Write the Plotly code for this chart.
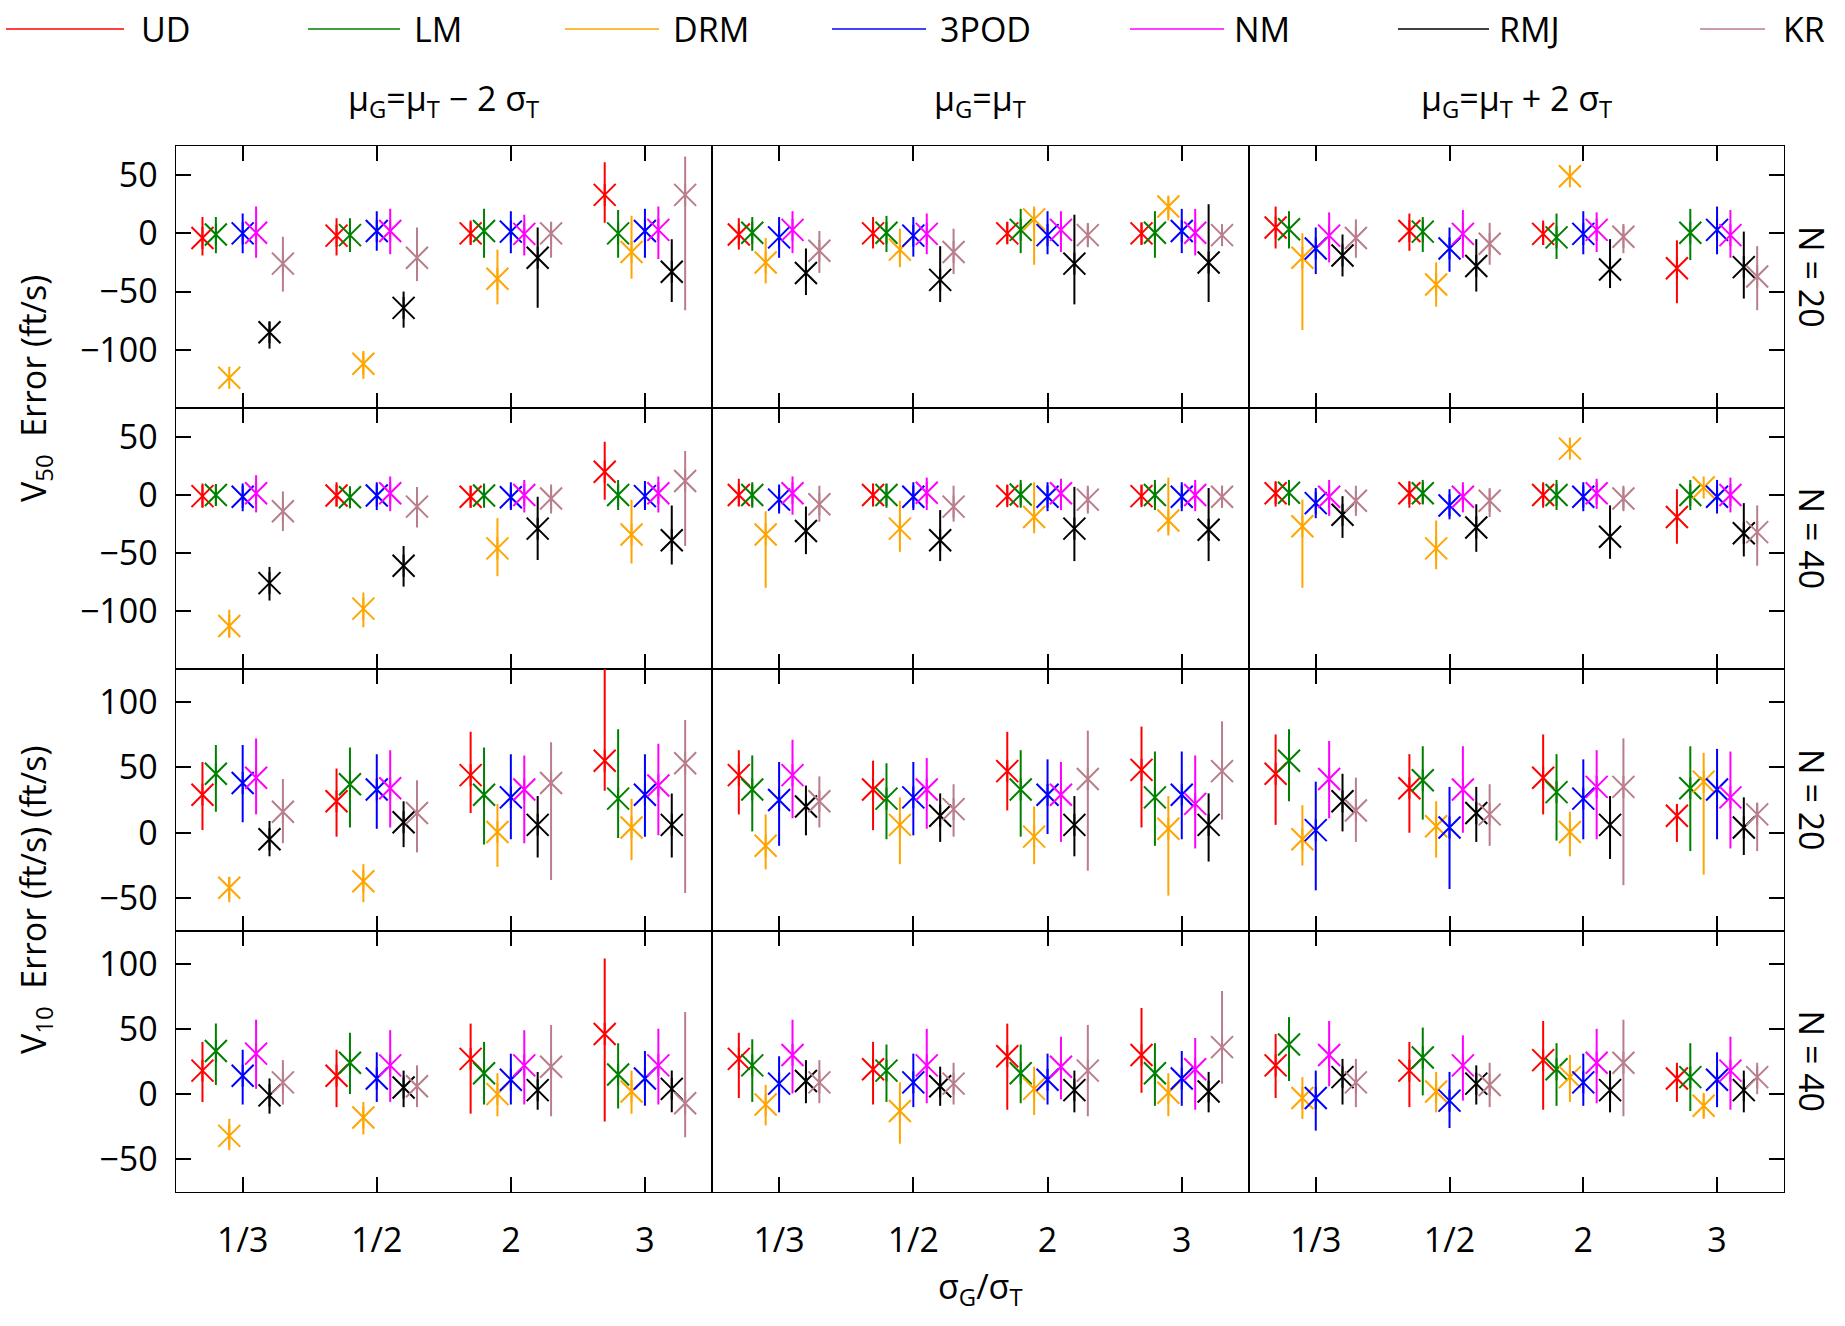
import plotly.graph_objects as go

# ---------------- data ----------------
SERIES = ["UD", "LM", "DRM", "3POD", "NM", "RMJ", "KR"]
COLORS = ["#ff0000", "#008000", "#ffa500", "#0000ff", "#ff00ff", "#000000", "#b97d8c"]
OFFSETS = [-0.3, -0.2, -0.1, 0.0, 0.1, 0.2, 0.3]
GROUP_LABELS = ["1/3", "1/2", "2", "3"]
GROUP_POS = [1, 2, 3, 4]
COL_TITLES = ["μ<sub>G</sub>=μ<sub>T</sub> − 2 σ<sub>T</sub>",
              "μ<sub>G</sub>=μ<sub>T</sub>",
              "μ<sub>G</sub>=μ<sub>T</sub> + 2 σ<sub>T</sub>"]
ROW_LABELS = ["N = 20", "N = 40", "N = 20", "N = 40"]
Y_RANGES = [[-150, 75], [-150, 75], [-75, 125], [-75, 125]]
Y_TICKS = [[-100, -50, 0, 50], [-100, -50, 0, 50], [-50, 0, 50, 100], [-50, 0, 50, 100]]

# each: [row][col][group]  (rows: V50 N=20, V50 N=40, V10 N=20, V10 N=40)
UD_med = [[[-4, -2, 0, 33], [-1, 0, 0, 0], [5, 2, -0.5, -30]],
          [[-1, -0.5, -1.5, 20], [0, 0, -1, -1], [1.5, 1.5, 0, -19]],
          [[29, 24, 44, 55], [44, 33, 47, 48], [45, 34, 42, 13]],
          [[18, 14, 27, 46], [27, 19, 29, 30], [22, 18, 26, 12]]]
UD_lo = [[[-19, -19, -10, 9], [-14, -13, -9, -10], [-13, -15, -10, -60]],
         [[-11, -10, -11, -4], [-10, -10, -9, -9], [-10, -11, -11, -42]],
         [[2, -3, 15, 32], [14, 2, 17, 4], [6, 0, 14, -7]],
         [[-6, -10, -15, -21], [-3, -8, -12, 1], [-3, -10, -12, -6]]]
UD_hi = [[[14, 13, 11, 61], [13, 14, 10, 9], [23, 17, 11, -6]],
         [[10, 11, 8, 46], [14, 10, 9, 9], [12, 12, 11, 5]],
         [[54, 49, 77, 140], [63, 55, 77, 81], [75, 60, 75, 22]],
         [[40, 34, 54, 104], [47, 40, 54, 66], [46, 40, 56, 24]]]

LM_med = [[[-1, -1.5, 2, 0], [0.5, 0.5, 3, 0.5], [3.5, 1.5, -3.5, 0.5]],
          [[0, -2, -0.5, 0], [0, 0, 0.5, 0], [2, 1.5, 0, 0]],
          [[45, 37, 29, 26], [33, 26, 33, 27], [55, 40, 31, 34]],
          [[33, 24, 16, 15], [22, 18, 16, 16], [38, 28, 19, 13]]]
LM_lo = [[[-17, -16, -21, -21], [-15, -16, -17, -21], [-13, -16, -22, -23]],
         [[-9, -11, -11, -13], [-11, -11, -11, -13], [-9, -8, -13, -13]],
         [[16, 4, -9, -4], [1, -5, -3, -10], [24, 10, -6, -14]],
         [[7, 0, -8, -11], [-6, -6, -7, -9], [10, -1, -9, -13]]]
LM_hi = [[[14, 13, 21, 20], [14, 15, 21, 19], [19, 14, 17, 21]],
         [[9, 7, 10, 13], [11, 10, 13, 13], [13, 13, 13, 13]],
         [[67, 65, 65, 79], [59, 53, 63, 62], [79, 66, 60, 66]],
         [[54, 47, 40, 39], [42, 38, 38, 39], [59, 51, 39, 39]]]

DRM_med = [[[-124, -112, -39, -16], [-25, -14, 12, 23], [-21, -44, 49, None]],
           [[-113, -98, -46, -34], [-34, -29, -19, -22], [-27, -46, 40, 6.5]],
           [[-42, -37, 0.5, 4], [-10, 6, -3, 3], [-5, 5, 0.5, 39]],
           [[-32, -18, 0, 2], [-8, -13, 4, 1], [-3, 2, 13, -9]]]
DRM_lo = [[[-124, -125, -61, -39], [-43, -29, -27, 11], [-83, -63, 49, None]],
          [[-123, -114, -70, -59], [-80, -49, -33, -35], [-80, -64, 40, 6.5]],
          [[-53, -53, -26, -21], [-28, -24, -24, -48], [-25, -19, -18, -32]],
          [[-43, -31, -17, -15], [-24, -38, -16, -17], [-19, -14, -6, -19]]]
DRM_hi = [[[-124, -101, -14, 15], [-4, 4, 23, 31], [0, -25, 49, None]],
          [[-99, -84, -20, -4], [-14, -5, 11, 15], [-4, -22, 40, 6.5]],
          [[-34, -24, 22, 26], [14, 27, 20, 28], [21, 24, 16, 61]],
          [[-19, -6, 16, 18], [7, 9, 21, 16], [13, 17, 30, 1]]]

POD_med = [[[0, 2, 1.5, 2], [-3.5, -2, -1.5, 2], [-13, -13, -0.5, 3]],
           [[-1.5, -0.5, -2, -1], [-4, -1.5, -1.5, -1.5], [-7, -9, -1.5, -1.5]],
           [[38, 33, 27, 29], [25, 27, 29, 29], [2, 4, 26, 33]],
           [[14, 12, 11, 12], [8, 9, 11, 12], [-3, -5, 9, 11]]]
POD_lo = [[[-17, -15, -17, -21], [-21, -20, -18, -17], [-35, -33, -18, -18]],
          [[-14, -13, -13, -13], [-16, -13, -14, -14], [-20, -21, -14, -16]],
          [[8, 3, -5, -3], [-10, -2, -1, -5], [-44, -43, -5, -5]],
          [[-8, -6, -8, -9], [-14, -10, -8, -9], [-28, -26, -9, -10]]]
POD_hi = [[[17, 19, 19, 21], [14, 14, 19, 21], [5, 5, 19, 23]],
          [[10, 11, 11, 12], [9, 11, 11, 11], [6, 5, 11, 13]],
          [[67, 60, 60, 60], [54, 54, 56, 62], [39, 35, 56, 64]],
          [[34, 32, 31, 33], [29, 31, 31, 33], [18, 17, 31, 32]]]

NM_med = [[[0.5, 2, -0.5, 3], [3, -0.5, 3, 0.5], [-2, -0.5, 3, -1.5]],
          [[1.5, 1.5, 0, 1.5], [1.5, 2, 1.5, 0], [-1.5, -1.5, 1.5, 0]],
          [[42, 34, 33, 36], [44, 33, 29, 22], [41, 33, 35, 27]],
          [[31, 22, 22, 22], [30, 22, 21, 19], [30, 22, 24, 18]]]
NM_lo = [[[-21, -18, -19, -22], [-17, -18, -16, -19], [-25, -21, -16, -21]],
         [[-15, -14, -15, -15], [-17, -13, -13, -14], [-18, -15, -12, -15]],
         [[14, 4, -8, -2], [11, 3, -7, -12], [11, 0, -5, -12]],
         [[4, -6, -8, -8], [0.5, -7, -4, -12], [6, -5, -7, -12]]]
NM_hi = [[[23, 21, 16, 23], [19, 17, 19, 21], [18, 20, 18, 20]],
         [[17, 16, 13, 16], [16, 15, 14, 13], [13, 11, 14, 15]],
         [[72, 63, 59, 68], [71, 57, 54, 59], [70, 66, 63, 62]],
         [[57, 49, 49, 50], [57, 50, 44, 43], [56, 45, 50, 44]]]

RMJ_med = [[[-85, -64, -21, -33], [-34, -40, -26, -25], [-19, -28, -31, -29]],
           [[-76, -61, -29, -39], [-31, -39, -29, -30], [-17, -28, -36, -33]],
           [[-5, 8, 6, 6], [20, 13, 6, 6], [24, 15, 6, 4]],
           [[-1, 5, 3, 4], [10, 6, 3, 2], [13, 8, 3, 3]]]
RMJ_lo = [[[-99, -81, -64, -59], [-53, -59, -61, -59], [-37, -50, -47, -56]],
          [[-91, -79, -56, -60], [-51, -57, -57, -57], [-37, -49, -55, -53]],
          [[-18, -11, -19, -19], [-2, -7, -18, -22], [1, -7, -20, -17]],
          [[-15, -10, -12, -14], [-7, -9, -14, -14], [-8, -8, -14, -14]]]
RMJ_hi = [[[-76, -50, 5, -5], [-13, -11, 16, 25], [-1, -5, -5, 1.5]],
          [[-62, -44, -1.5, -9], [-10, -13, 7, 6], [-1, -8, -9, -7]],
          [[9, 24, 28, 30], [36, 30, 28, 30], [45, 35, 28, 27]],
          [[12, 18, 17, 18], [26, 21, 18, 17], [27, 22, 18, 18]]]

KR_med = [[[-26, -21, 0, 33], [-15, -16, -1.5, -1.5], [-4, -9, -3, -37]],
          [[-14, -10, -3, 12], [-8, -10, -4, -1.5], [-5, -5, -3, -32]],
          [[16, 15, 38, 53], [24, 18, 41, 47], [17, 14, 35, 14]],
          [[9, 6, 21, -7], [9, 8, 18, 36], [9, 7, 24, 13]]]
KR_lo = [[[-50, -41, -21, -66], [-34, -35, -12, -11], [-21, -27, -17, -66]],
         [[-31, -28, -16, -44], [-23, -23, -16, -11], [-18, -19, -14, -61]],
         [[-8, -15, -36, -46], [4, -3, -29, 10], [-7, -10, -40, -14]],
         [[-8, -10, -17, -33], [-7, -8, -17, 8], [-10, -10, -17, 0]]]
KR_hi = [[[-3, 5, 10, 66], [2, 4, 9, 7], [12, 9, 8, -11]],
         [[3, 7, 9, 38], [8, 8, 8, 8], [8, 6, 8, -9]],
         [[41, 40, 69, 86], [43, 37, 78, 85], [42, 37, 72, 23]],
         [[26, 22, 53, 63], [26, 24, 53, 79], [27, 24, 57, 24]]]

MED = [UD_med, LM_med, DRM_med, POD_med, NM_med, RMJ_med, KR_med]
LO = [UD_lo, LM_lo, DRM_lo, POD_lo, NM_lo, RMJ_lo, KR_lo]
HI = [UD_hi, LM_hi, DRM_hi, POD_hi, NM_hi, RMJ_hi, KR_hi]

# ---------------- layout constants ----------------
W, H = 1845, 1326
X_DOM = [[0.0952, 0.3859], [0.3859, 0.6769], [0.6769, 0.9669]]
Y_DOM = [[0.6923, 0.8899], [0.4955, 0.6923], [0.2979, 0.4955], [0.1011, 0.2979]]
FONT = "Open Sans"
FS = 34
LW = 1.4
MS = 22

fig = go.Figure()
layout = dict(width=W, height=H, margin=dict(l=0, r=0, t=0, b=0),
              paper_bgcolor="white", plot_bgcolor="white", showlegend=False,
              font=dict(family=FONT, size=FS, color="black"))

for r in range(4):
    for c in range(3):
        k = r * 3 + c + 1
        xa = "x" if k == 1 else f"x{k}"
        ya = "y" if k == 1 else f"y{k}"
        for s, name in enumerate(SERIES):
            med = MED[s][r][c]
            lo = LO[s][r][c]
            hi = HI[s][r][c]
            xs = [g + OFFSETS[s] for g in GROUP_POS]
            up = [(h - m) if m is not None else None for m, h in zip(med, hi)]
            dn = [(m - l) if m is not None else None for m, l in zip(med, lo)]
            col = COLORS[s]
            fig.add_trace(go.Scatter(
                x=xs, y=med, mode="markers", name=name, xaxis=xa, yaxis=ya,
                marker=dict(symbol="x-thin-open", size=MS, color=col,
                            line=dict(width=2, color=col)),
                error_y=dict(type="data", symmetric=False, array=up, arrayminus=dn,
                             color=col, thickness=2, width=0),
                hoverinfo="skip"))
            fig.add_trace(go.Scatter(
                x=xs, y=med, mode="markers", name=name, xaxis=xa, yaxis=ya,
                marker=dict(symbol="line-ns-open", size=MS / 1.4, color=col,
                            line=dict(width=2, color=col)),
                hoverinfo="skip"))
        xkey = "xaxis" if k == 1 else f"xaxis{k}"
        ykey = "yaxis" if k == 1 else f"yaxis{k}"
        layout[xkey] = dict(domain=X_DOM[c], anchor=ya, range=[0.5, 4.5],
                            tickmode="array", tickvals=GROUP_POS, ticktext=GROUP_LABELS,
                            showticklabels=(r == 3), ticks="inside", ticklen=15,
                            tickwidth=2, tickcolor="black", showline=True,
                            linecolor="black", linewidth=LW, mirror="ticks",
                            showgrid=False, zeroline=False, ticklabelstandoff=18,
                            tickfont=dict(family=FONT, size=FS))
        yax = dict(domain=Y_DOM[r], anchor=xa, range=Y_RANGES[r],
                   tickmode="array", tickvals=Y_TICKS[r], showline=True,
                   linecolor="black", linewidth=LW, mirror=True,
                   showgrid=False, zeroline=False,
                   tickfont=dict(family=FONT, size=FS))
        if c == 0:
            yax.update(side="left", ticks="inside", ticklen=15, tickwidth=2,
                       tickcolor="black", showticklabels=True, ticklabelstandoff=10)
        elif c == 1:
            yax.update(ticks="", showticklabels=False)
        else:
            yax.update(side="right", ticks="inside", ticklen=15, tickwidth=2,
                       tickcolor="black", showticklabels=False)
        layout[ykey] = yax

annotations = []
shapes = []
# column titles
for c in range(3):
    annotations.append(dict(text=COL_TITLES[c], x=(X_DOM[c][0] + X_DOM[c][1]) / 2,
                            y=1 - 100 / H, xref="paper", yref="paper",
                            showarrow=False, xanchor="center", yanchor="middle",
                            font=dict(family=FONT, size=FS)))
# row labels
for r in range(4):
    annotations.append(dict(text=ROW_LABELS[r], x=1812 / W,
                            y=(Y_DOM[r][0] + Y_DOM[r][1]) / 2, xref="paper", yref="paper",
                            showarrow=False, textangle=90, xanchor="center", yanchor="middle",
                            font=dict(family=FONT, size=FS)))
# y titles
annotations.append(dict(text="V<sub>50</sub>  Error (ft/s)", x=35 / W, y=1 - 389 / H,
                        xref="paper", yref="paper", showarrow=False, textangle=-90,
                        xanchor="center", yanchor="middle", font=dict(family=FONT, size=FS)))
annotations.append(dict(text="V<sub>10</sub>  Error (ft/s) (ft/s)", x=35 / W, y=1 - 900 / H,
                        xref="paper", yref="paper", showarrow=False, textangle=-90,
                        xanchor="center", yanchor="middle", font=dict(family=FONT, size=FS)))
# x title
annotations.append(dict(text="σ<sub>G</sub>/σ<sub>T</sub>", x=(X_DOM[1][0] + X_DOM[1][1]) / 2,
                        y=1 - 1288 / H, xref="paper", yref="paper", showarrow=False,
                        xanchor="center", yanchor="middle", font=dict(family=FONT, size=FS)))

# legend (drawn manually, MATLAB style)
LEG_X0 = [6, 308, 565, 832, 1130, 1398, 1700]
LEG_X1 = [124, 400, 659, 926, 1224, 1489, 1765]
LEG_TX = [139, 412, 671, 938, 1232, 1497, 1781]
LEG_Y = 1 - 29 / H
for s, name in enumerate(SERIES):
    shapes.append(dict(type="line", xref="paper", yref="paper",
                       x0=LEG_X0[s] / W, x1=LEG_X1[s] / W, y0=LEG_Y, y1=LEG_Y,
                       line=dict(color=COLORS[s], width=1.5)))
    annotations.append(dict(text=name, x=LEG_TX[s] / W, y=LEG_Y, xref="paper", yref="paper",
                            showarrow=False, xanchor="left", yanchor="middle",
                            font=dict(family=FONT, size=FS)))

layout["annotations"] = annotations
layout["shapes"] = shapes
fig.update_layout(**layout)
fig.write_html("out.html")
